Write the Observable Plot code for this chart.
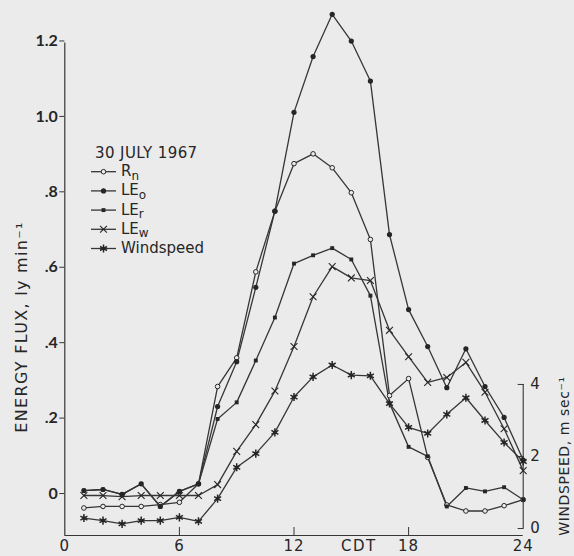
<!DOCTYPE html>
<html><head><meta charset="utf-8">
<script src="https://cdn.jsdelivr.net/npm/d3@7"></script>
<script src="https://cdn.jsdelivr.net/npm/@observablehq/plot@0.6"></script>
<style>
html,body{margin:0;padding:0;background:#ebebeb;}
#chart{position:relative;width:574px;height:556px;overflow:hidden;}
</style></head><body><div id="chart"></div>
<script>
// ---- data ----
const hours = [1,2,3,4,5,6,7,8,9,10,11,12,13,14,15,16,17,18,19,20,21,22,23,24];
const rn  = [-0.033,-0.029,-0.029,-0.029,-0.024,-0.018,0.031,0.289,0.365,0.593,0.754,0.880,0.906,0.869,0.803,0.679,0.265,0.310,0.101,-0.025,-0.041,-0.041,-0.027,-0.011];
const leo = [0.013,0.016,0.003,0.031,-0.029,0.011,0.031,0.236,0.355,0.552,0.754,1.016,1.164,1.276,1.205,1.099,0.692,0.493,0.395,0.286,0.389,0.289,0.207,0.094];
const ler = [0.013,0.016,0.003,0.031,-0.029,0.011,0.031,0.203,0.247,0.358,0.472,0.615,0.637,0.656,0.626,0.530,0.245,0.129,0.104,-0.029,0.020,0.011,0.022,-0.011];
const lew = [0,0,-0.003,0,0,0,0,0.029,0.117,0.188,0.277,0.395,0.527,0.607,0.577,0.570,0.438,0.368,0.300,0.313,0.353,0.274,0.177,0.066];
const windspeed = [0.29,0.22,0.13,0.22,0.22,0.31,0.20,0.83,1.70,2.08,2.67,3.65,4.21,4.54,4.26,4.24,3.47,2.81,2.64,3.17,3.63,3.00,2.39,1.86]; // m/s

const xTicks = [0,6,12,18,24];
const xTickLabels = ["0","6","12","18","24"];
const xInnerTicks = [6,12,18];
const yTicks = [0,0.2,0.4,0.6,0.8,1.0,1.2];
const yTickLabels = ["0",".2",".4",".6",".8","1.0","1.2"];
const wsTicks = [0,2,4];
const wsTickLabels = ["0","2","4"];

const legendTitle = "30 JULY 1967";
const legendMain = ["R","LE","LE","LE","Windspeed"];
const legendSub  = ["n","o","r","w",""];
const yTitle = "ENERGY FLUX, ly min⁻¹";
const wsTitle = "WINDSPEED, m sec⁻¹";
const xTitle = "CDT";

// ---- layout / style ----
const W = 574, H = 556;
const bg = "#ebebeb", ink = "#262626", lineInk = "#363636";
const FONT = "DejaVu Sans";
const yDomain = [-0.106, 1.302];
const xDomain = [0, 24];
const wsZero = -0.0875, wsUnit = 0.0955;          // windspeed axis placed on the flux scale
const ws = d => wsZero + wsUnit * d;
const xTitlePos = 15.4;

const keys = ["Rn","LEo","LEr","LEw","Windspeed"];
const series = [rn, leo, ler, lew, windspeed.map(ws)];
const table = keys.flatMap((k, s) => series[s].map((v, i) => ({series: k, t: hours[i], v})));
const of = k => table.filter(d => d.series === k);

const plot = Plot.plot({
  width: W, height: H,
  marginLeft: 64.3, marginRight: 51.3, marginTop: 4, marginBottom: 21,
  x: {domain: xDomain, label: null},
  y: {domain: yDomain, label: null},
  style: {background: bg, fontFamily: FONT, color: ink},
  marks: [
    Plot.ruleY([yDomain[0]], {x1: xDomain[0], x2: xDomain[1], stroke: lineInk, strokeWidth: 1.2}),
    Plot.ruleX([xDomain[0]], {y1: yDomain[0], y2: yTicks[yTicks.length-1], stroke: lineInk, strokeWidth: 1.2}),
    Plot.ruleX([xDomain[1]], {y1: ws(wsTicks[0]), y2: ws(wsTicks[wsTicks.length-1]), stroke: lineInk, strokeWidth: 1.1}),
    Plot.axisY({ticks: yTicks, tickFormat: d => yTickLabels[yTicks.indexOf(d)], tickSize: 5, tickPadding: 2,
      dy: -2, fontSize: 16, fontWeight: "bold", fontFamily: "Lato", label: null, stroke: lineInk}),
    Plot.axisX({ticks: xInnerTicks, tickSize: -8, tickFormat: () => "", label: null, stroke: lineInk}),
    Plot.axisX({ticks: xTicks, tickSize: 0, tickPadding: 5, tickFormat: d => xTickLabels[xTicks.indexOf(d)],
      fontSize: 15, label: null}),
    Plot.axisY({anchor: "right", ticks: wsTicks.map(ws), tickSize: -6, tickPadding: 13,
      tickFormat: d => wsTickLabels[wsTicks.map(ws).indexOf(d)], fontSize: 15, label: null, stroke: lineInk}),
    Plot.text([xTitle], {x: xTitlePos, frameAnchor: "bottom", dy: 5, lineAnchor: "top", fontSize: 15, fill: ink}),
    Plot.text([yTitle], {frameAnchor: "left", textAnchor: "middle", rotate: -90, dx: -42.6, dy: 57, fontSize: 16, fill: ink}),
    Plot.text([wsTitle], {frameAnchor: "right", textAnchor: "middle", rotate: -90, dx: 41.3, dy: 186, fontSize: 14, fill: ink}),
    Plot.line(table, {x: "t", y: "v", z: "series", stroke: lineInk, strokeWidth: 1.3}),
    Plot.dot(of("Rn"), {x: "t", y: "v", r: 2.3, fill: bg, stroke: ink, strokeWidth: 1}),
    Plot.dot(of("LEr"), {x: "t", y: "v", symbol: "square", r: 2.2, fill: ink}),
    Plot.dot(of("LEo"), {x: "t", y: "v", r: 2.6, fill: ink}),
    Plot.dot(of("LEw"), {x: "t", y: "v", symbol: "times", r: 3.2, stroke: ink, strokeWidth: 1.1}),
    Plot.dot(of("Windspeed"), {x: "t", y: "v", symbol: "asterisk", r: 3.8, stroke: ink, strokeWidth: 1.5}),
    Plot.dot(of("Windspeed"), {x: "t", y: "v", r: 1.8, fill: ink})
  ]
});
document.getElementById("chart").appendChild(plot);

// letter spacing of the spaced-out titles
const spacing = new Map([[yTitle, "1.3px"], [wsTitle, "0.6px"], [xTitle, "1.5px"]]);
d3.select(plot).selectAll("text").each(function() {
  const s = spacing.get(this.textContent);
  if (s) this.style.letterSpacing = s;
  else if (xTickLabels.includes(this.textContent) && this.closest('g[aria-label="x-axis tick label"]')) this.style.letterSpacing = "1px";
});

// ---- legend ----
const svg = d3.select(plot);
const lg = svg.append("g").attr("font-family", FONT).attr("fill", ink).attr("text-anchor", "start");
lg.append("text").attr("x", 95).attr("y", 157.5).attr("font-size", 15).attr("letter-spacing", 0.4).text(legendTitle);
const sym = [
  {type: d3.symbolCircle, r: 2.3, fill: bg, stroke: ink, sw: 1},
  {type: d3.symbolCircle, r: 2.6, fill: ink, stroke: "none", sw: 0},
  {type: d3.symbolSquare, r: 2.2, fill: ink, stroke: "none", sw: 0},
  {type: d3.symbolTimes, r: 3.2, fill: "none", stroke: ink, sw: 1.1},
  {type: d3.symbolAsterisk, r: 3.8, fill: "none", stroke: ink, sw: 1.5, dot: true}
];
legendMain.forEach((m, i) => {
  const y = 171.7 + i * 19.2;
  lg.append("line").attr("x1", 91).attr("x2", 116).attr("y1", y).attr("y2", y)
    .attr("stroke", lineInk).attr("stroke-width", 1.3);
  const s = sym[i];
  lg.append("path").attr("transform", `translate(103.5,${y})`)
    .attr("d", d3.symbol(s.type, s.r * s.r * Math.PI)())
    .attr("fill", s.fill).attr("stroke", s.stroke).attr("stroke-width", s.sw);
  if (s.dot) lg.append("circle").attr("cx", 103.5).attr("cy", y).attr("r", 1.8).attr("fill", ink);
  const t = lg.append("text").attr("x", 121).attr("y", y + 4.5).attr("font-size", 15).text(m);
  if (legendSub[i]) t.append("tspan").attr("dy", 3.5).attr("font-size", 12).text(legendSub[i]);
});
</script></body></html>
